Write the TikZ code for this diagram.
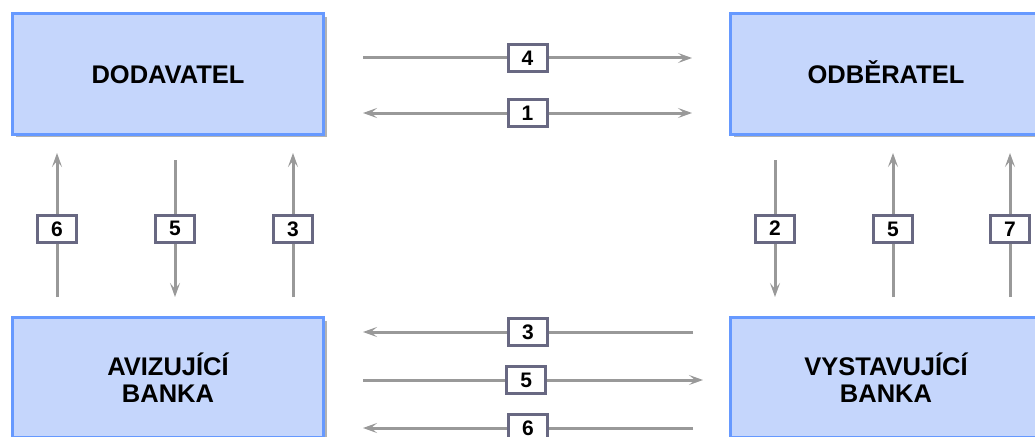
\documentclass[tikz,border=0pt]{standalone}
\usepackage{fontspec}
\setmainfont{Liberation Sans}
\usepackage{tikz}
\usepackage{xcolor}
\usetikzlibrary{arrows.meta,shadows}

\definecolor{boxfill}{RGB}{197,214,252}
\definecolor{boxline}{RGB}{102,153,255}
\definecolor{flowgray}{RGB}{153,153,153}
\definecolor{numline}{RGB}{104,104,130}

\tikzset{
	party/.style={draw=boxline, fill=boxfill, line width=3pt, minimum width=311pt, minimum height=120pt, align=center,
		font=\bfseries\fontsize{25.5}{27}\selectfont,
		drop shadow={shadow xshift=3pt, shadow yshift=-3pt, fill=gray, opacity=0.6}},
	num/.style={draw=numline, fill=white, line width=3pt, minimum width=39pt, minimum height=27pt, inner sep=0pt,
		font=\bfseries\fontsize{21}{21}\selectfont},
	flow/.style={draw=flowgray, line width=3pt},
	tip/.tip={Stealth[length=14pt,width=10pt,inset=6pt]}
}

\begin{document}
\begin{tikzpicture}[x=1pt,y=-1pt]
			\useasboundingbox (0,0) rectangle (1035,436);
			\node[party,text height=18pt,text depth=0pt] (dod) at (168,74) {DODAVATEL};
			\node[party,text height=18pt,text depth=0pt] (odb) at (886,74) {ODBĚRATEL};
			\node[party] (avi) at (168,377.5) {AVIZUJÍCÍ\\BANKA};
			\node[party] (vys) at (886,377.5) {VYSTAVUJÍCÍ\\BANKA};

			\coordinate (t4a) at (363,58); \coordinate (t4b) at (692,58);
			\coordinate (t1a) at (363,113); \coordinate (t1b) at (692,113);
			\coordinate (b3a) at (693,332); \coordinate (b3b) at (363,332);
			\coordinate (b5a) at (363,380); \coordinate (b5b) at (703,380);
			\coordinate (b6a) at (693,428); \coordinate (b6b) at (363,428);
			\draw[flow,-tip] (t4a) -- node[num] (n4) {4} (t4b);
			\draw[flow,tip-tip] (t1a) -- node[num] (n1) {1} (t1b);
			\draw[flow,-tip] (b3a) -- node[num] (m3) {3} (b3b);
			\draw[flow,-tip] (b5a) -- node[num,pos=0.48] (m5) {5} (b5b);
			\draw[flow,-tip] (b6a) -- node[num] (m6) {6} (b6b);

			\coordinate (l6a) at (57,297); \coordinate (l6b) at (57,153);
			\coordinate (l5a) at (175,160); \coordinate (l5b) at (175,297);
			\coordinate (l3a) at (293,297); \coordinate (l3b) at (293,153);
			\draw[flow,-tip] (l6a) -- node[num,pos=0.47] (v6) {6} (l6b);
			\draw[flow,-tip] (l5a) -- node[num,pos=0.5] (v5) {5} (l5b);
			\draw[flow,-tip] (l3a) -- node[num,pos=0.47] (v3) {3} (l3b);

			\coordinate (r2a) at (775,160); \coordinate (r2b) at (775,297);
			\coordinate (r5a) at (893,297); \coordinate (r5b) at (893,153);
			\coordinate (r7a) at (1010,297); \coordinate (r7b) at (1010,153);
			\draw[flow,-tip] (r2a) -- node[num,pos=0.5] (w2) {2} (r2b);
			\draw[flow,-tip] (r5a) -- node[num,pos=0.47] (w5) {5} (r5b);
			\draw[flow,-tip] (r7a) -- node[num,pos=0.47] (w7) {7} (r7b);
		\end{tikzpicture}
\end{document}
